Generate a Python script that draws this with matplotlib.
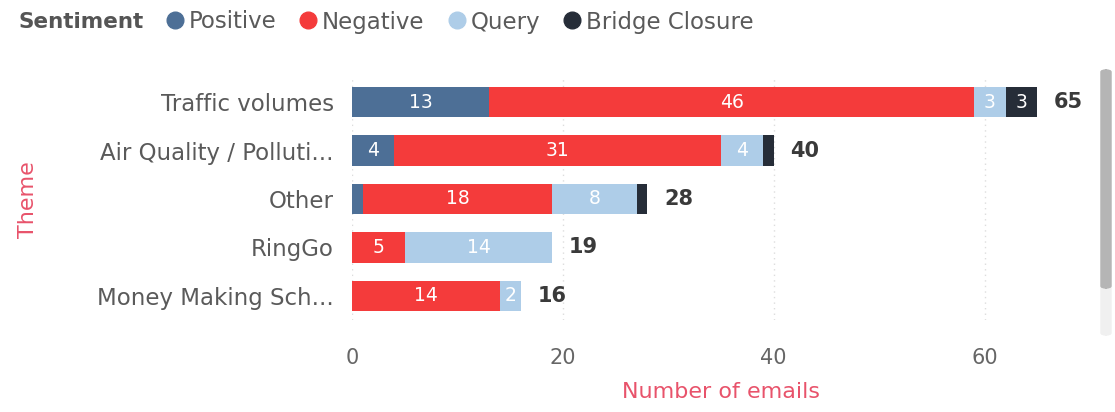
import matplotlib.pyplot as plt
from matplotlib.lines import Line2D
from matplotlib.patches import FancyBboxPatch

plt.rcParams['font.family'] = ['DejaVu Sans']

# ============================== data =========================================

themes = ["Traffic volumes", "Air Quality / Polluti...", "Other", "RingGo",
          "Money Making Sch..."]
sentiments = ["Positive", "Negative", "Query", "Bridge Closure"]
positive = [13, 4, 1, 0, 0]
negative = [46, 31, 18, 5, 14]
query = [3, 4, 8, 14, 2]
bridge = [3, 1, 1, 0, 0]

colors = ["#4d6f96", "#f43b3b", "#aecde8", "#262d38"]
label_red = "#e8536b"

# ============================== plot =========================================

fig = plt.figure(figsize=(11.15, 4.12), dpi=100)
ax = fig.add_axes([352 / 1115, 1 - 320 / 412, (1090 - 352) / 1115, 242 / 412])

series = [positive, negative, query, bridge]
ypos = list(range(len(themes)))
left = [0] * len(themes)
for vals, col in zip(series, colors):
    ax.barh(ypos, vals, left=left, height=0.63, color=col)
    for y, v, l in zip(ypos, vals, left):
        if v >= 2:
            ax.text(l + v / 2, y, str(v), ha='center', va='center',
                    color='white', fontsize=13.5)
    left = [l + v for l, v in zip(left, vals)]

for y, tot in zip(ypos, left):
    ax.text(tot + 1.6, y, str(tot), ha='left', va='center', color='#3a3a3a',
            fontsize=15, fontweight='bold')

ax.set_xlim(0, 70)
ax.set_ylim(len(themes) - 0.5, -0.5)
ax.set_yticks(ypos)
ax.set_yticklabels(themes, fontsize=16.5, color='#5a5a5a')
ax.set_xticks([0, 20, 40, 60])
ax.tick_params(axis='x', labelsize=15, colors='#666666', length=0, pad=20)
ax.tick_params(axis='y', length=0, pad=13)
ax.xaxis.grid(True, linestyle=(0, (1, 3)), color='#dddddd', linewidth=1)
ax.set_axisbelow(True)
for s in ax.spines.values():
    s.set_visible(False)

ax.set_xlabel("Number of emails", fontsize=16, color=label_red, labelpad=10)
fig.text(28 / 1115, 1 - 200 / 412, "Theme", rotation=90, ha='center',
         va='center', fontsize=16, color=label_red)

# legend
fig.text(18 / 1115, 1 - 22 / 412, "Sentiment", fontsize=15.5,
         fontweight='bold', color='#555555', va='center')
handles = [Line2D([], [], marker='o', linestyle='', markersize=12,
                  color=c) for c in colors]
fig.legend(handles, sentiments, loc='center left',
           bbox_to_anchor=(152 / 1115, 1 - 22 / 412), ncol=4, frameon=False,
           fontsize=16.5, handletextpad=0.1, columnspacing=0.9,
           handlelength=1.0, borderpad=0, labelcolor='#5a5a5a')

# scrollbar
fig.patches.append(FancyBboxPatch((1101 / 1115, 1 - 335 / 412), 10 / 1115,
                                  265 / 412, boxstyle='round,pad=0,rounding_size=0.005',
                                  transform=fig.transFigure, color='#f0f0f0'))
fig.patches.append(FancyBboxPatch((1101 / 1115, 1 - 288 / 412), 10 / 1115,
                                  218 / 412, boxstyle='round,pad=0,rounding_size=0.005',
                                  transform=fig.transFigure, color='#b5b5b5'))

plt.savefig("out.png", dpi=100)
